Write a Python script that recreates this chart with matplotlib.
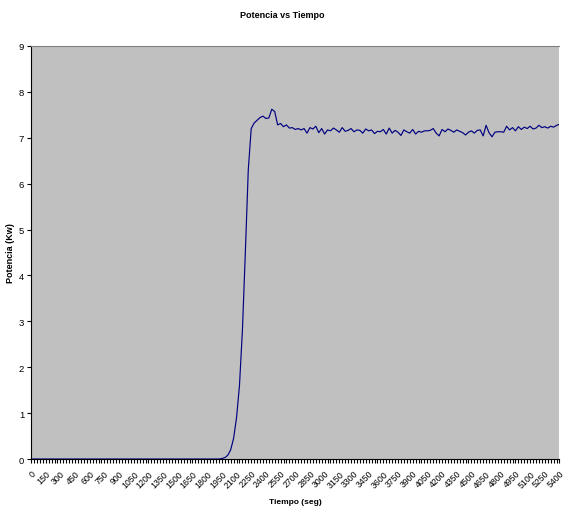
import numpy as np
import matplotlib.pyplot as plt

plt.rcParams['font.family'] = ['Liberation Sans', 'DejaVu Sans']

# time in seconds, one reading every 30 s
tiempo = np.arange(0, 5401, 30)

# power (Kw)
potencia_arranque = [0.0] * 65
potencia_subida = [0.01, 0.03, 0.08, 0.2, 0.45, 0.9, 1.6, 2.8, 4.5, 6.3]
potencia_meseta = [
    7.20, 7.32, 7.38, 7.44, 7.47, 7.42, 7.43, 7.62, 7.57, 7.28,
    7.31, 7.24, 7.28, 7.21, 7.22, 7.18, 7.20, 7.17, 7.20, 7.10,
    7.22, 7.19, 7.25, 7.11, 7.20, 7.08, 7.17, 7.15, 7.21, 7.17,
    7.12, 7.22, 7.14, 7.16, 7.20, 7.13, 7.17, 7.16, 7.10, 7.19,
    7.15, 7.17, 7.09, 7.14, 7.13, 7.18, 7.08, 7.21, 7.10, 7.16,
    7.12, 7.05, 7.17, 7.13, 7.10, 7.18, 7.08, 7.14, 7.12, 7.15,
    7.15, 7.16, 7.20, 7.10, 7.04, 7.18, 7.13, 7.19, 7.16, 7.12,
    7.17, 7.14, 7.11, 7.06, 7.12, 7.15, 7.10, 7.16, 7.17, 7.04,
    7.27, 7.11, 7.02, 7.12, 7.13, 7.13, 7.12, 7.25, 7.17, 7.22,
    7.15, 7.24, 7.18, 7.23, 7.20, 7.25, 7.19, 7.21, 7.27, 7.22,
    7.24, 7.21, 7.25, 7.23, 7.27, 7.29,
]
potencia = potencia_arranque + potencia_subida + potencia_meseta

titulo = 'Potencia vs Tiempo'
etiqueta_x = 'Tiempo (seg)'
etiqueta_y = 'Potencia (Kw)'

fig = plt.figure(figsize=(5.64, 5.10), dpi=100)
ax = fig.add_axes([0.055, 0.098, 0.937, 0.81])
ax.set_facecolor('#C0C0C0')

ax.plot(tiempo, potencia, color='#000080', linewidth=0.85)

ax.set_xlim(0, 5400)
ax.set_ylim(0, 9)

ax.set_xticks(np.arange(0, 5401, 150))
ax.set_xticks(tiempo, minor=True)
ax.set_xticklabels([str(t) for t in range(0, 5401, 150)], rotation=45,
                   ha='right', va='top', rotation_mode='anchor', fontsize=6.3)
ax.set_yticks(range(0, 10))
ax.tick_params(axis='y', labelsize=6.8, length=3, width=0.8, pad=2)
ax.tick_params(axis='x', which='major', length=3, width=0.8, pad=4)
ax.tick_params(axis='x', which='minor', length=3, width=0.8)

ax.spines['top'].set_color('#808080')
ax.spines['right'].set_visible(False)
ax.spines['left'].set_color('black')
ax.spines['bottom'].set_color('black')

ax.set_xlabel(etiqueta_x, fontsize=6, fontweight='bold')
ax.xaxis.set_label_coords(0.5, -0.095)
ax.set_ylabel(etiqueta_y, fontsize=6.5, fontweight='bold')
ax.yaxis.set_label_coords(-0.03, 0.5)
fig.text(0.5, 0.97, titulo, ha='center', va='center', fontsize=6.5, fontweight='bold')

fig.savefig('out.png', dpi=100)
